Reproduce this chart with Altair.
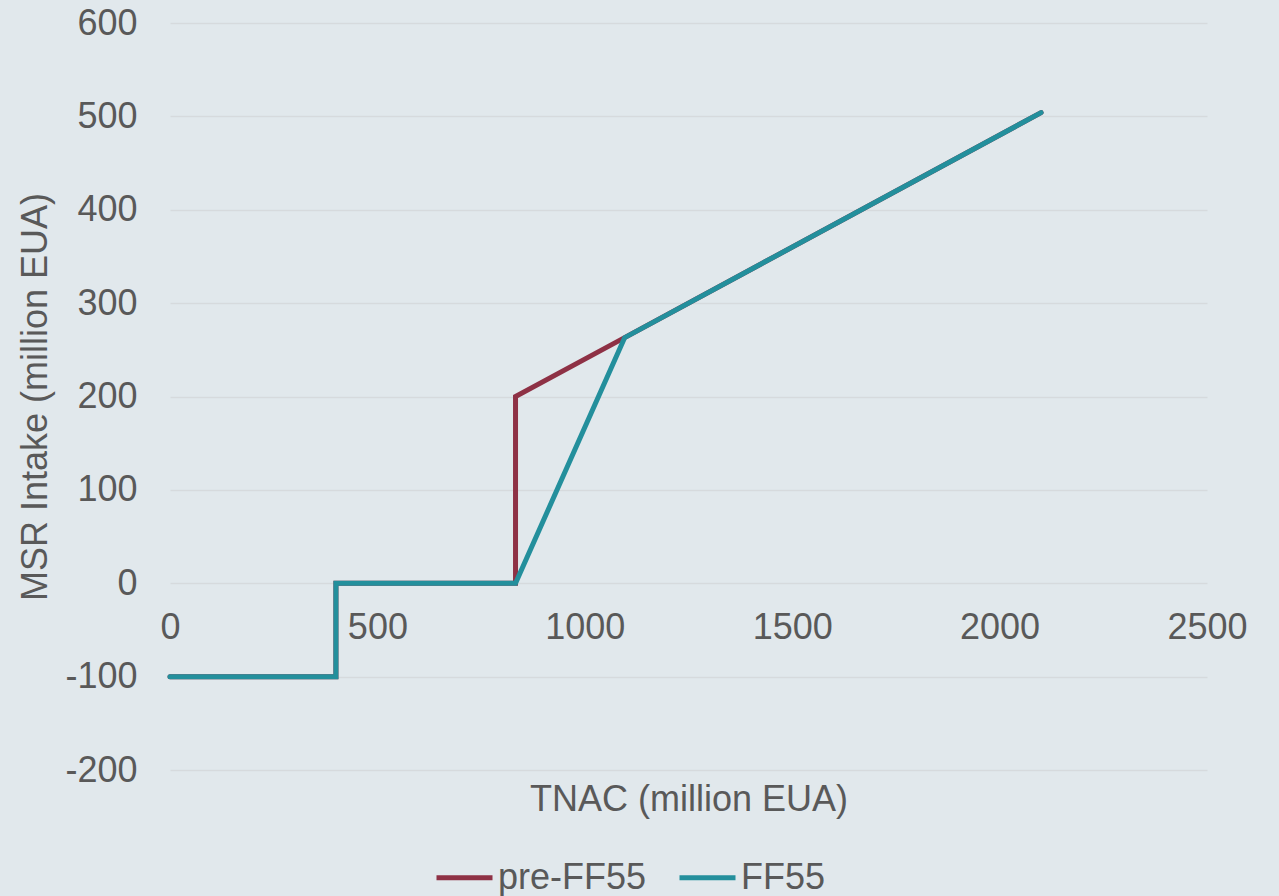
import altair as alt
import pandas as pd

# Data
series_names = ["pre-FF55", "FF55"]
pre_x = [0, 400, 400, 833, 833, 1096, 2100]
pre_y = [-100, -100, 0, 0, 200, 263, 504]
ff_x = [0, 400, 400, 833, 1096, 2100]
ff_y = [-100, -100, 0, 0, 263, 504]
x_ticks = [0, 500, 1000, 1500, 2000, 2500]
y_ticks = [-200, -100, 0, 100, 200, 300, 400, 500, 600]
colors = ["#8E3145", "#238F9C"]

rows = []
for i, (x, y) in enumerate(zip(pre_x, pre_y)):
    rows.append({"series": series_names[0], "x": x, "y": y, "i": i})
for i, (x, y) in enumerate(zip(ff_x, ff_y)):
    rows.append({"series": series_names[1], "x": x, "y": y, "i": i})
df = pd.DataFrame(rows)

W, H = 1037, 747
PAD_L, PAD_T = 170, 23
FONT = "Liberation Sans"
TXT = "#595959"

chart = alt.Chart(df).mark_line(strokeWidth=5, strokeCap="round", strokeJoin="miter").encode(
    x=alt.X("x:Q", scale=alt.Scale(domain=[0, 2500], nice=False, zero=False),
            axis=alt.Axis(title="TNAC (million EUA)", values=x_ticks, offset=-187,
                          domain=False, ticks=False, grid=False, labelPadding=27,
                          titlePadding=137, labelFlush=False,
                          labelExpr="'' + datum.value")),
    y=alt.Y("y:Q", scale=alt.Scale(domain=[-200, 600], nice=False, zero=False),
            axis=alt.Axis(title="MSR Intake (million EUA)", values=y_ticks,
                          domain=False, ticks=False, grid=True, labelPadding=33,
                          titlePadding=10, labelExpr="'' + datum.value")),
    color=alt.Color("series:N", scale=alt.Scale(domain=series_names, range=colors),
                    legend=alt.Legend(title=None, orient="none", legendX=264, legendY=824,
                                      direction="horizontal", symbolType="stroke",
                                      symbolSize=3136, symbolStrokeWidth=5,
                                      labelOffset=3, columnPadding=22)),
    order=alt.Order("i:Q"),
).properties(
    width=W, height=H,
    autosize=alt.AutoSizeParams(type="none"),
    padding={"left": PAD_L, "top": PAD_T, "right": 1279 - PAD_L - W, "bottom": 896 - PAD_T - H},
    background="#E1E8EC",
).configure_view(stroke=None).configure_axis(
    labelFont=FONT, titleFont=FONT, labelFontSize=36, titleFontSize=36,
    labelColor=TXT, titleColor=TXT, titleFontWeight="normal",
    gridColor="#D6DADD", gridWidth=1.5,
).configure_legend(
    labelFont=FONT, labelFontSize=36, labelColor=TXT,
)

chart.save("out.html", embed_options={"renderer": "svg", "actions": False})
